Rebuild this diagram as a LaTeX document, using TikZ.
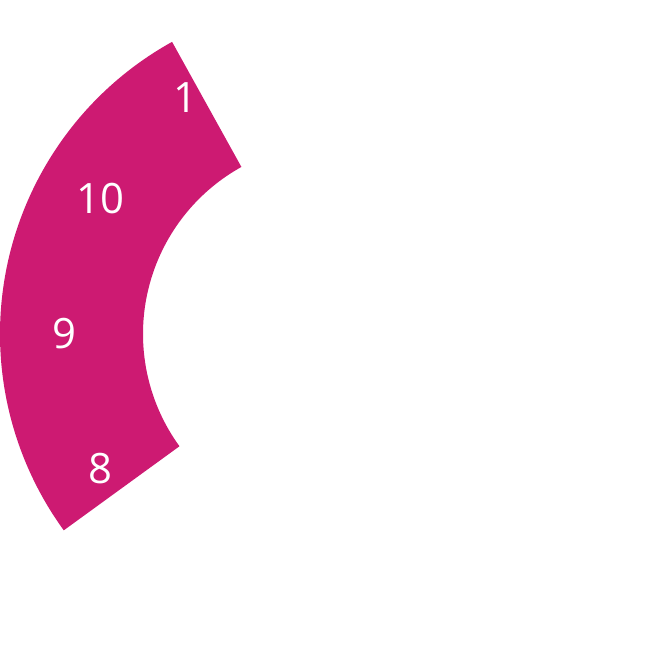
\documentclass[tikz,border=0pt]{standalone}
\usepackage{fontspec}
\setmainfont{Open Sans}
\definecolor{mag}{HTML}{CD1A72}
\begin{document}
\begin{tikzpicture}[x=1bp,y=1bp,
  lbl/.style={text=white,inner sep=0pt,font=\fontsize{42}{50}\selectfont}]
\useasboundingbox (0,0) rectangle (668,668);
\begin{scope}[shift={(334,334)}]
\fill[mag] (119:334) arc[start angle=119,end angle=216,radius=334]
  -- (216:191) arc[start angle=216,end angle=119,radius=191] -- cycle;
\node[lbl] (l1) at (-149,236) {1};
\node[lbl] (l10) at (150:270) {10};
\node[lbl] (l9) at (180:270) {9};
\node[lbl] (l8) at (210:270) {8};
\end{scope}
\end{tikzpicture}
\end{document}
